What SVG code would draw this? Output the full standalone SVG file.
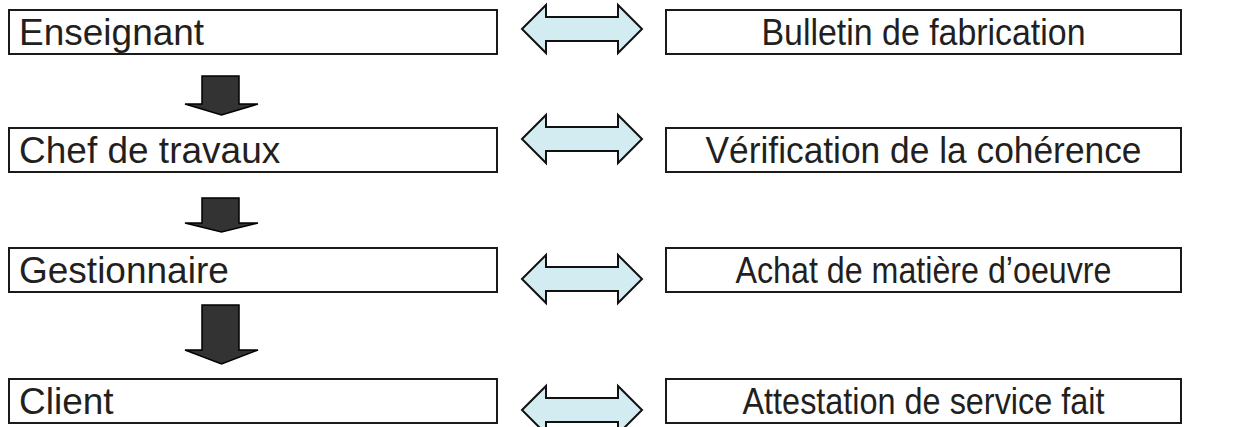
<svg xmlns="http://www.w3.org/2000/svg" width="1239" height="427" viewBox="0 0 1239 427">
<style>
.box{fill:#fff;stroke:#1a1a1a;stroke-width:2}
.t{font-family:"Liberation Sans",Arial,sans-serif;font-size:37px;fill:#231f20}
.c{text-anchor:middle;font-size:36px}
.down{fill:#333;stroke:#000;stroke-width:1.5;stroke-linejoin:miter}
.dbl{fill:#d3ecf2;stroke:#111;stroke-width:2;stroke-linejoin:miter}
</style>
<rect width="1239" height="427" fill="#fff"/>
<g id="n-enseignant"><rect class="box" x="9" y="10" width="488" height="44"/><text class="t" x="19" y="45">Enseignant</text></g>
<g id="n-chef"><rect class="box" x="9" y="128" width="488" height="44"/><text class="t" x="19" y="163">Chef de travaux</text></g>
<g id="n-gestionnaire"><rect class="box" x="9" y="248" width="488" height="44"/><text class="t" x="19" y="283">Gestionnaire</text></g>
<g id="n-client"><rect class="box" x="9" y="379" width="488" height="44"/><text class="t" x="19" y="414">Client</text></g>
<g id="n-bulletin"><rect class="box" x="666" y="10" width="515" height="44"/><text class="t c" x="923.5" y="45" textLength="324" lengthAdjust="spacingAndGlyphs">Bulletin de fabrication</text></g>
<g id="n-verif"><rect class="box" x="666" y="128" width="515" height="44"/><text class="t c" x="923.5" y="163" textLength="436" lengthAdjust="spacingAndGlyphs">Vérification de la cohérence</text></g>
<g id="n-achat"><rect class="box" x="666" y="248" width="515" height="44"/><text class="t c" x="923.5" y="283" textLength="376" lengthAdjust="spacingAndGlyphs">Achat de matière d’oeuvre</text></g>
<g id="n-attestation"><rect class="box" x="666" y="379" width="515" height="44"/><text class="t c" x="923.5" y="414" textLength="362" lengthAdjust="spacingAndGlyphs">Attestation de service fait</text></g>
<g id="connectors">
<path class="down" d="M202,76 H239 V104 H258 L221.5,115 L185,104 H202 Z"/>
<path class="down" d="M202,198 H239 V223 H258 L221.5,232 L185,223 H202 Z"/>
<path class="down" d="M202,305 H239 V350 H258 L221.5,364 L185,350 H202 Z"/>
<path class="dbl" d="M522,29 L546,5 V17 H618 V5 L642,29 L618,53 V41 H546 V53 Z"/>
<path class="dbl" d="M522,139 L546,115 V127 H618 V115 L642,139 L618,163 V151 H546 V163 Z"/>
<path class="dbl" d="M522,279 L546,255 V267 H618 V255 L642,279 L618,303 V291 H546 V303 Z"/>
<path class="dbl" d="M522,410 L546,386 V398 H618 V386 L642,410 L618,434 V422 H546 V434 Z"/>
</g>
</svg>
